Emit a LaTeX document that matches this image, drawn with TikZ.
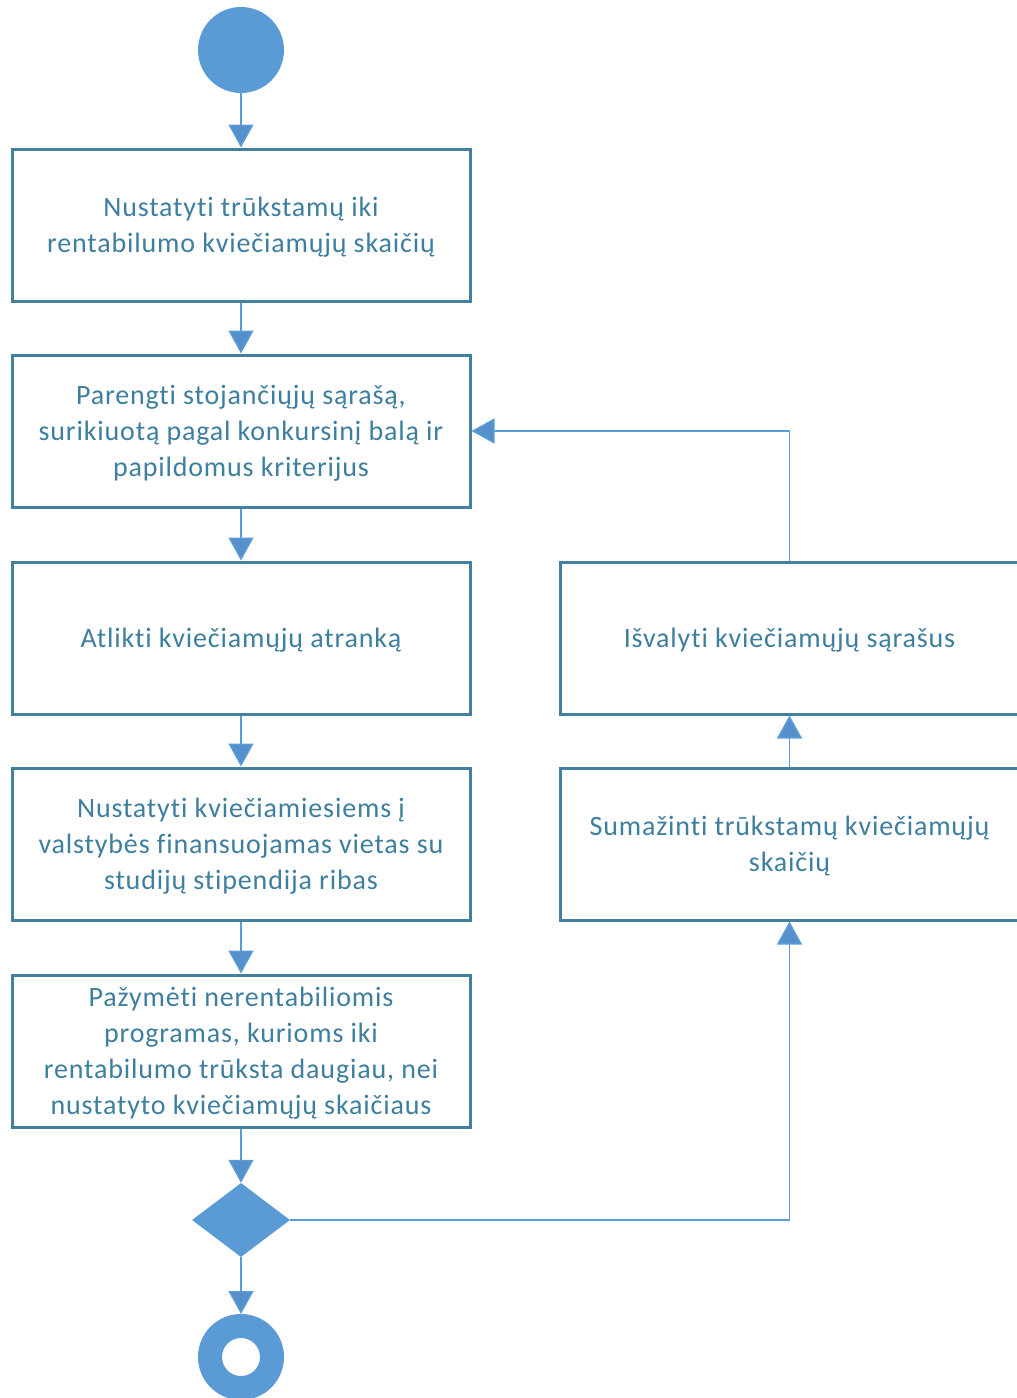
\documentclass[tikz,border=0pt]{standalone}
\usepackage{fontspec}
\setmainfont{Carlito}[LetterSpace=3,Ligatures=NoCommon]
\usetikzlibrary{arrows.meta,shapes.geometric}
\definecolor{boxc}{HTML}{41809F}
\definecolor{txtc}{HTML}{3E7E9E}
\definecolor{fillc}{HTML}{5B9BD5}
\definecolor{linec}{HTML}{5B9BD5}
\definecolor{tipc}{HTML}{5590CC}
\tikzset{
  actbox/.style={draw=boxc, line width=3pt, fill=white, rectangle, minimum width=458pt, minimum height=152pt, inner sep=0pt},
  boxtext/.style={inner sep=0pt, align=center, text=txtc, font=\fontsize{28}{36}\selectfont},
  startnode/.style={circle, fill=fillc, draw=none, minimum size=86pt, inner sep=0pt},
  endnode/.style={circle, fill=white, draw=fillc, line width=24pt, minimum size=62pt, inner sep=0pt},
  decnode/.style={diamond, fill=fillc, draw=none, minimum width=98pt, minimum height=74pt, inner sep=0pt},
  conn/.style={draw=linec, line width=1.6pt, -{Triangle[width=25pt,length=23pt,fill=tipc]}},
}
\begin{document}
\begin{tikzpicture}[x=1pt,y=-1pt]
\useasboundingbox (0,0) rectangle (1017,1398);
\clip (0,0) rectangle (1017,1398);
\node[startnode] (start) at (241,50) {};
\node[actbox] (b1) at (241,225) {};
\node[actbox] (b2) at (241,431) {};
\node[actbox] (b3) at (241,638) {};
\node[actbox] (b4) at (241,844) {};
\node[actbox] (b5) at (241,1051) {};
\node[decnode] (dec) at (241,1220) {};
\node[endnode] (end) at (241,1357) {};
\node[actbox, minimum width=459pt] (ra) at (789.5,638) {};
\node[actbox, minimum width=459pt] (rb) at (789.5,844) {};
\node[boxtext] (t1) at ([yshift=-2.5pt]b1.center) {Nustatyti trūkstamų iki\\rentabilumo kviečiamųjų skaičių};
\node[boxtext] (t2) at ([yshift=-2.5pt]b2.center) {Parengti stojančiųjų sąrašą,\\surikiuotą pagal konkursinį balą ir\\papildomus kriterijus};
\node[boxtext] (t3) at ([yshift=-2.5pt]b3.center) {Atlikti kviečiamųjų atranką};
\node[boxtext] (t4) at ([yshift=-2.5pt]b4.center) {Nustatyti kviečiamiesiems į\\valstybės finansuojamas vietas su\\studijų stipendija ribas};
\node[boxtext] (t5) at ([yshift=-2.5pt]b5.center) {Pažymėti nerentabiliomis\\programas, kurioms iki\\rentabilumo trūksta daugiau, nei\\nustatyto kviečiamųjų skaičiaus};
\node[boxtext] (tra) at ([yshift=-2.5pt]ra.center) {Išvalyti kviečiamųjų sąrašus};
\node[boxtext] (trb) at ([yshift=-2.5pt]rb.center) {Sumažinti trūkstamų kviečiamųjų\\skaičių};
\draw[conn] (start) -- (b1);
\draw[conn] (b1) -- (b2);
\draw[conn] (b2) -- (b3);
\draw[conn] (b3) -- (b4);
\draw[conn] (b4) -- (b5);
\draw[conn] (b5) -- (dec);
\draw[conn] (dec) -- (end);
\draw[conn] (dec.east) -| (rb.south);
\draw[conn] (rb) -- (ra);
\draw[conn] (ra.north) |- (b2.east);
\end{tikzpicture}
\end{document}
